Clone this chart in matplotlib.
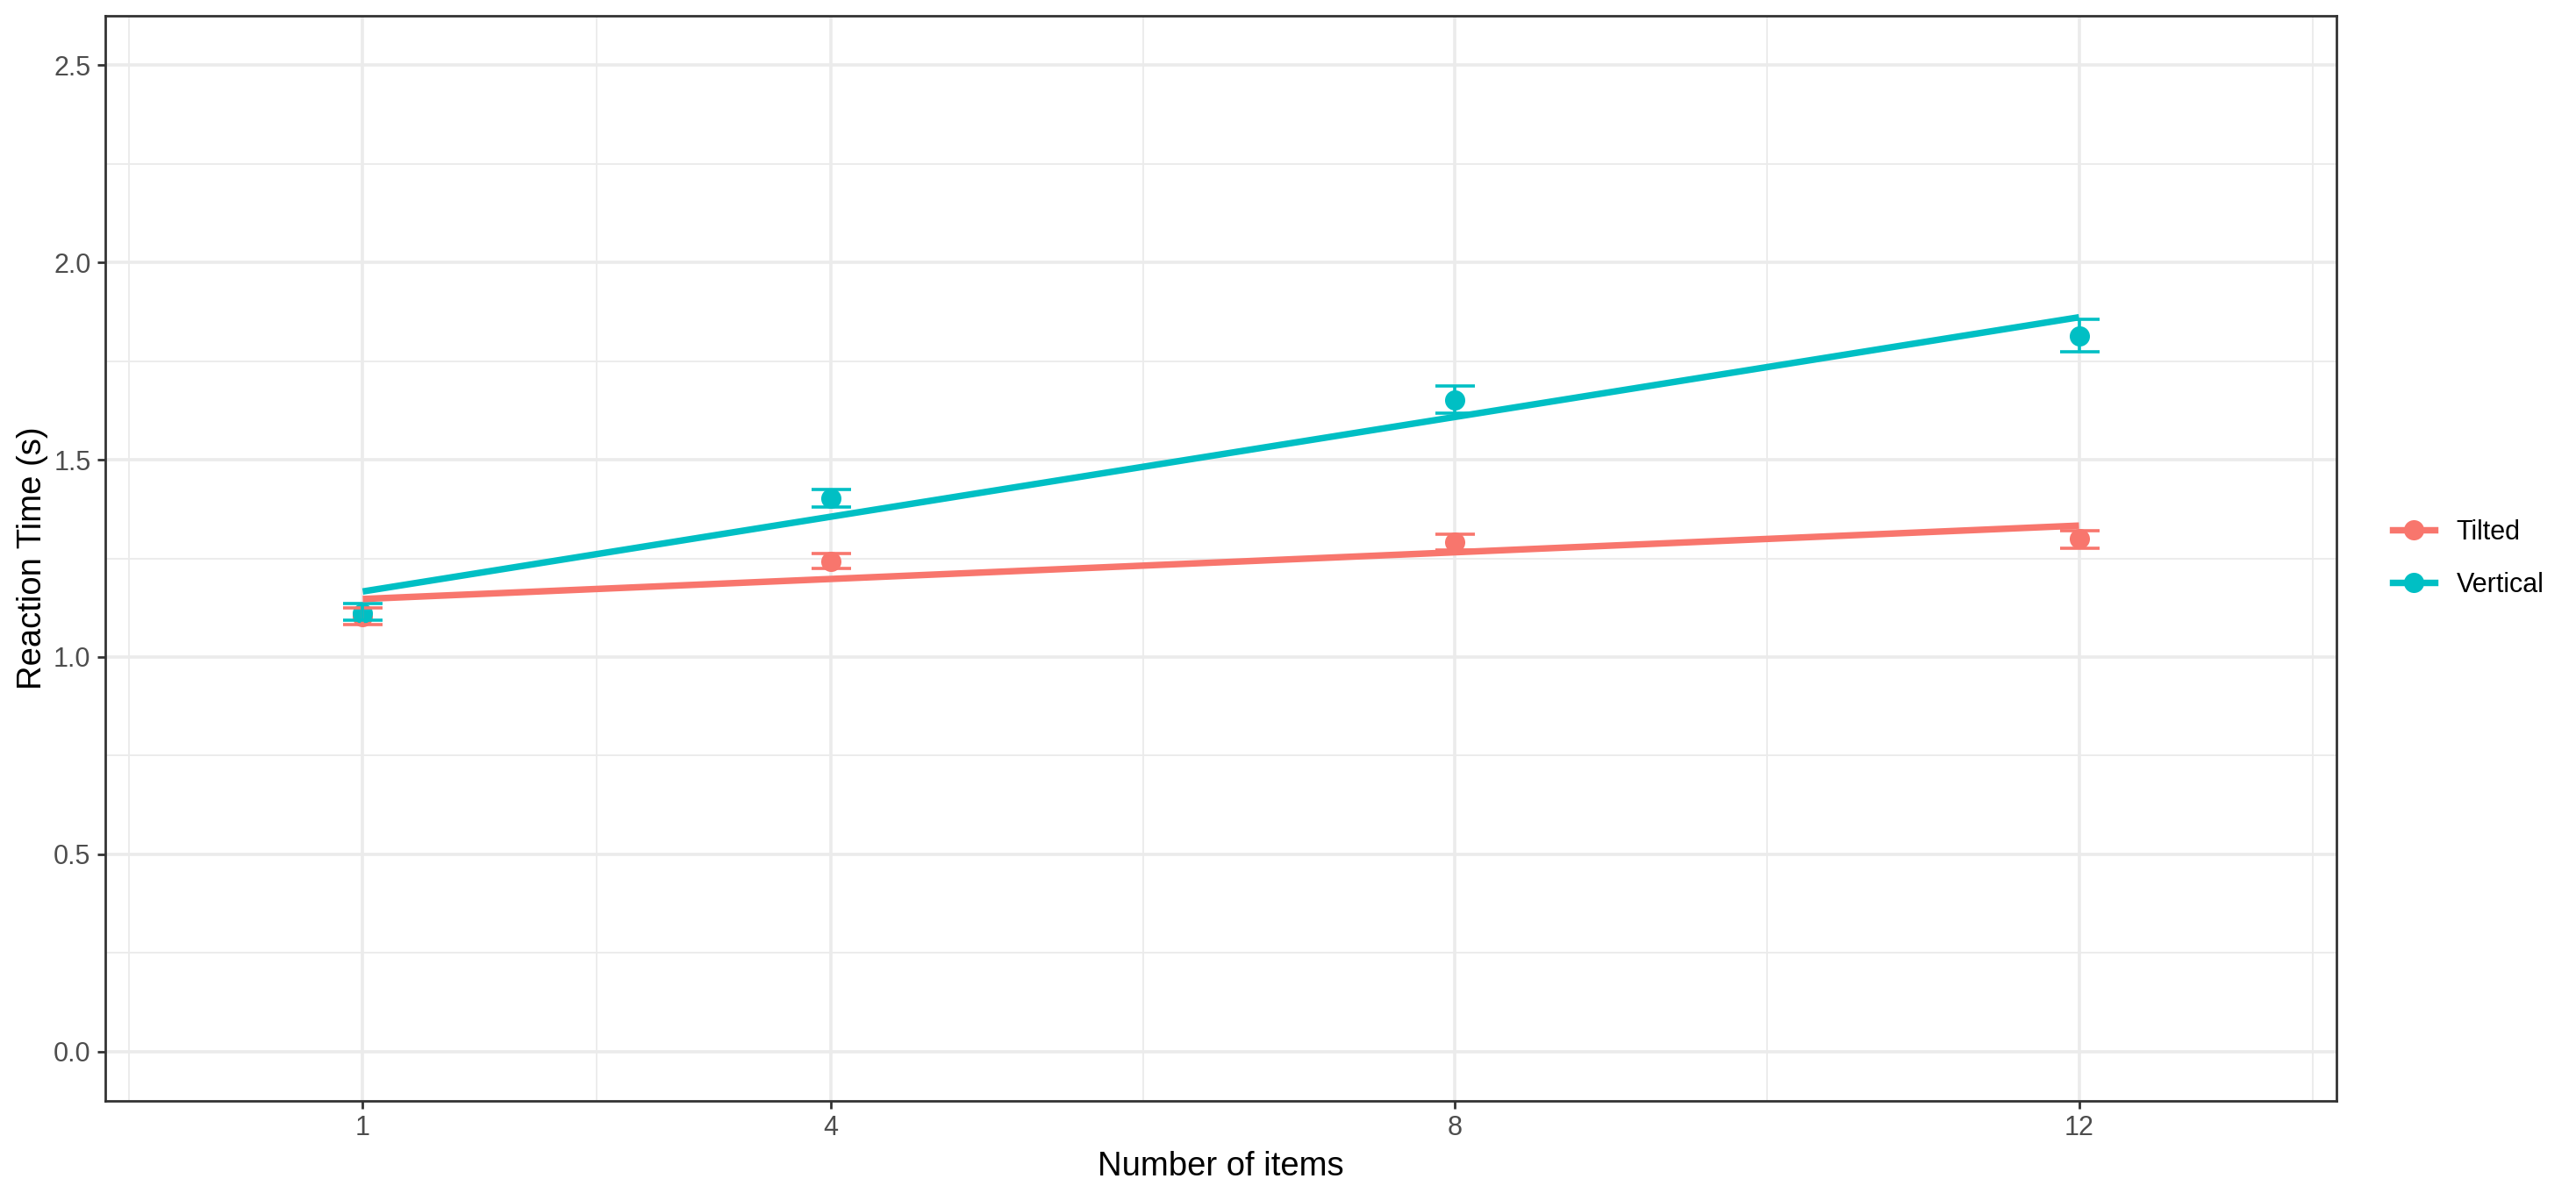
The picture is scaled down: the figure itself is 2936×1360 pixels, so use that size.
import matplotlib
matplotlib.use("Agg")
import matplotlib.pyplot as plt
from matplotlib.lines import Line2D
from matplotlib.ticker import FixedLocator, FormatStrFormatter

plt.rcParams["font.family"] = ["Liberation Sans", "DejaVu Sans"]

# 数据
set_size = [1, 4, 8, 12]
groups = ["Tilted", "Vertical"]
colors = {"Tilted": "#F8766D", "Vertical": "#00BFC4"}

rt_mean = {
    "Tilted": [1.103, 1.243, 1.292, 1.299],
    "Vertical": [1.111, 1.402, 1.652, 1.814],
}
rt_lower = {
    "Tilted": [1.082, 1.225, 1.271, 1.276],
    "Vertical": [1.093, 1.381, 1.617, 1.773],
}
rt_upper = {
    "Tilted": [1.124, 1.262, 1.312, 1.320],
    "Vertical": [1.135, 1.425, 1.687, 1.856],
}
# 线性拟合线端点 (x=1, x=12)
fit_x = [1, 12]
fit_y = {
    "Tilted": [1.147, 1.333],
    "Vertical": [1.166, 1.861],
}

x_ticks = [1, 4, 8, 12]
x_minor = [-0.5, 2.5, 6, 10, 13.5]
y_ticks = [0.0, 0.5, 1.0, 1.5, 2.0, 2.5]
y_minor = [0.25, 0.75, 1.25, 1.75, 2.25]

fig = plt.figure(figsize=(14.68, 6.8), dpi=200)
ax = fig.add_axes([120 / 2936, 1 - 1255 / 1360, (2663 - 120) / 2936, (1255 - 18) / 1360])

GRID = "#EBEBEB"
ax.set_xlim(-0.65, 13.65)
ax.set_ylim(-0.125, 2.625)
ax.xaxis.set_major_locator(FixedLocator(x_ticks))
ax.xaxis.set_minor_locator(FixedLocator(x_minor))
ax.yaxis.set_major_locator(FixedLocator(y_ticks))
ax.yaxis.set_minor_locator(FixedLocator(y_minor))
ax.yaxis.set_major_formatter(FormatStrFormatter("%.1f"))
ax.grid(which="major", color=GRID, linewidth=1.3)
ax.grid(which="minor", color=GRID, linewidth=0.67)
ax.set_axisbelow(True)

# 点
for g in groups:
    ax.plot(set_size, rt_mean[g], "o", color=colors[g], markersize=8.3,
            markeredgewidth=0, zorder=3)
# 误差线
for g in groups:
    m = rt_mean[g]
    err = [[a - b for a, b in zip(m, rt_lower[g])], [b - a for a, b in zip(m, rt_upper[g])]]
    ax.errorbar(set_size, m, yerr=err, fmt="none", ecolor=colors[g],
                elinewidth=1.3, capsize=8.1, capthick=1.3, zorder=4)
# 拟合线
for g in groups:
    ax.plot(fit_x, fit_y[g], color=colors[g], linewidth=2.67,
            solid_capstyle="butt", zorder=5)

for sp in ax.spines.values():
    sp.set_color("#333333")
    sp.set_linewidth(1.0)

ax.tick_params(which="major", length=3.4, width=1.0, color="#333333",
               labelcolor="#4D4D4D", labelsize=11, pad=2.5)
ax.tick_params(which="minor", length=0)

ax.set_xlabel("Number of items", fontsize=13.75, labelpad=4)
ax.set_ylabel("Reaction Time (s)", fontsize=13.75, labelpad=2)

handles = [
    Line2D([0], [0], color=colors[g], linewidth=2.67, marker="o",
           markersize=8.3, markeredgewidth=0)
    for g in groups
]
fig.legend(handles, groups, loc="center left", bbox_to_anchor=(2727 / 2936, 1 - 637 / 1360),
           frameon=False, fontsize=11, handlelength=1.57, handletextpad=0.8,
           labelspacing=0.98, borderpad=0, borderaxespad=0)

fig.savefig("out.png", dpi=200)
plt.close(fig)
